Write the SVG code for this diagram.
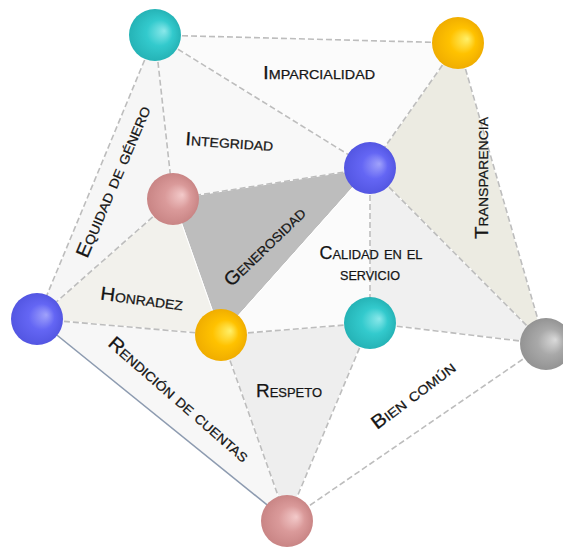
<svg xmlns="http://www.w3.org/2000/svg" width="563" height="548" viewBox="0 0 563 548">
<style>
.edge{fill:none;stroke:#bdbdbd;stroke-width:1.6;stroke-dasharray:6 3}
.solid{fill:none;stroke:#8d9bb0;stroke-width:1.6}
.lbl{font-family:"Liberation Sans",Arial,sans-serif;font-size:19px;font-variant:small-caps;fill:#151515;stroke:#151515;stroke-width:0.25;text-anchor:middle}
.face{stroke:#ffffff;stroke-width:1}
</style>
<defs>
<radialGradient id="gTeal" cx="0.5" cy="0.5" r="0.5" fx="0.68" fy="0.42">
<stop offset="0" stop-color="#8ae8ea"/><stop offset="0.5" stop-color="#33cacd"/><stop offset="1" stop-color="#25b3b6"/>
</radialGradient>
<radialGradient id="gYellow" cx="0.5" cy="0.5" r="0.5" fx="0.68" fy="0.42">
<stop offset="0" stop-color="#fff06a"/><stop offset="0.5" stop-color="#ffc200"/><stop offset="1" stop-color="#f0ad00"/>
</radialGradient>
<radialGradient id="gBlue" cx="0.5" cy="0.5" r="0.5" fx="0.68" fy="0.42">
<stop offset="0" stop-color="#a0a2fb"/><stop offset="0.5" stop-color="#6466f4"/><stop offset="1" stop-color="#5356e2"/>
</radialGradient>
<radialGradient id="gPink" cx="0.5" cy="0.5" r="0.5" fx="0.68" fy="0.42">
<stop offset="0" stop-color="#f3caca"/><stop offset="0.5" stop-color="#da9a9a"/><stop offset="1" stop-color="#c98585"/>
</radialGradient>
<radialGradient id="gGray" cx="0.5" cy="0.5" r="0.5" fx="0.68" fy="0.42">
<stop offset="0" stop-color="#dadada"/><stop offset="0.5" stop-color="#a9a9a9"/><stop offset="1" stop-color="#939393"/>
</radialGradient>
</defs>

<g id="faces">
<polygon class="face" points="155,35 458,43 370,168" fill="#fbfbfb"/>
<polygon class="face" points="155,35 370,168 173,199" fill="#f8f8f8"/>
<polygon class="face" points="155,35 173,199 37,319" fill="#f6f6f6"/>
<polygon class="face" points="173,199 370,168 221,335" fill="#bdbdbd"/>
<polygon class="face" points="173,199 37,319 221,335" fill="#f2f1ec"/>
<polygon class="face" points="458,43 370,168 545,344" fill="#ecebe2"/>
<polygon class="face" points="370,168 221,335 370,323" fill="#fbfbfb"/>
<polygon class="face" points="370,168 370,323 545,344" fill="#f0f0f0"/>
<polygon class="face" points="221,335 370,323 287,521" fill="#eeeeee"/>
<polygon class="face" points="370,323 545,344 287,521" fill="#ffffff"/>
<polygon class="face" points="37,319 221,335 287,521" fill="#f7f7f7"/>
</g>

<g id="connectors">
<line class="edge" x1="155" y1="35" x2="458" y2="43"/>
<line class="edge" x1="155" y1="35" x2="370" y2="168"/>
<line class="edge" x1="155" y1="35" x2="173" y2="199"/>
<line class="edge" x1="155" y1="35" x2="37" y2="319"/>
<line class="edge" x1="458" y1="43" x2="370" y2="168"/>
<line class="edge" x1="458" y1="43" x2="545" y2="344"/>
<line class="edge" x1="370" y1="168" x2="173" y2="199"/>
<line class="edge" x1="370" y1="168" x2="370" y2="323"/>
<line class="edge" x1="370" y1="168" x2="545" y2="344"/>
<line class="edge" x1="173" y1="199" x2="37" y2="319"/>
<line class="edge" x1="37" y1="319" x2="221" y2="335"/>
<line class="edge" x1="221" y1="335" x2="370" y2="323"/>
<line class="edge" x1="221" y1="335" x2="287" y2="521"/>
<line class="edge" x1="370" y1="323" x2="545" y2="344"/>
<line class="edge" x1="370" y1="323" x2="287" y2="521"/>
<line class="edge" x1="545" y1="344" x2="287" y2="521"/>
<line class="solid" x1="37" y1="319" x2="287" y2="521"/>
</g>

<g id="labels">
<text class="lbl" x="319" y="79" textLength="112" lengthAdjust="spacingAndGlyphs">Imparcialidad</text>
<text class="lbl" x="229" y="148" transform="rotate(4 229 148)" textLength="88" lengthAdjust="spacingAndGlyphs">Integridad</text>
<text class="lbl" x="119" y="184" transform="rotate(-67 119 184)" textLength="163" lengthAdjust="spacingAndGlyphs">Equidad de género</text>
<text class="lbl" x="269" y="251" transform="rotate(-44 269 251)" textLength="105" lengthAdjust="spacingAndGlyphs">Generosidad</text>
<text class="lbl" x="141" y="305" transform="rotate(7.5 141 305)" textLength="83" lengthAdjust="spacingAndGlyphs">Honradez</text>
<text class="lbl" x="175" y="404" transform="rotate(41 175 404)" textLength="180" lengthAdjust="spacingAndGlyphs">Rendición de cuentas</text>
<text class="lbl" x="289" y="397" textLength="66" lengthAdjust="spacingAndGlyphs">Respeto</text>
<text class="lbl" x="417" y="400" transform="rotate(-37 417 400)" textLength="100" lengthAdjust="spacingAndGlyphs">Bien común</text>
<text class="lbl" style="font-size:18px"><tspan x="371" y="259" textLength="103" lengthAdjust="spacingAndGlyphs">Calidad en el</tspan><tspan x="370" y="280" textLength="60" lengthAdjust="spacingAndGlyphs">servicio</tspan></text>
<text class="lbl" x="488" y="178" transform="rotate(-90 488 178)" textLength="122" lengthAdjust="spacingAndGlyphs">Transparencia</text>
</g>

<g id="node-teal-top"><circle cx="155" cy="35" r="26" fill="url(#gTeal)"/></g>
<g id="node-yellow-top"><circle cx="458" cy="43" r="26" fill="url(#gYellow)"/></g>
<g id="node-blue-center"><circle cx="370" cy="168" r="26" fill="url(#gBlue)"/></g>
<g id="node-pink-left"><circle cx="173" cy="199" r="26" fill="url(#gPink)"/></g>
<g id="node-blue-left"><circle cx="37" cy="319" r="26" fill="url(#gBlue)"/></g>
<g id="node-yellow-mid"><circle cx="221" cy="335" r="26" fill="url(#gYellow)"/></g>
<g id="node-teal-mid"><circle cx="370" cy="323" r="26" fill="url(#gTeal)"/></g>
<g id="node-gray-right"><circle cx="546" cy="344" r="26" fill="url(#gGray)"/></g>
<g id="node-pink-bottom"><circle cx="287" cy="521" r="26" fill="url(#gPink)"/></g>
</svg>
